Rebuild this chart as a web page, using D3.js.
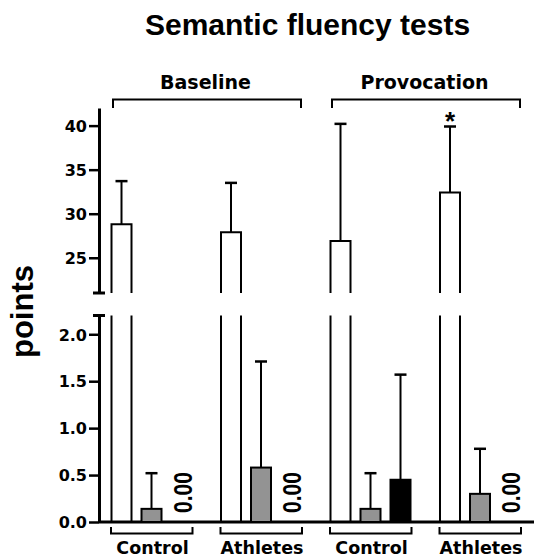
<!DOCTYPE html>
<html>
<head>
<meta charset="utf-8">
<script src="https://cdn.jsdelivr.net/npm/d3@7"></script>
<style>
  body { margin: 0; background: #fff; }
  svg { display: block; }
  .tick text { font-family: "DejaVu Sans", sans-serif; font-weight: bold; font-size: 16px; fill: #000; }
</style>
</head>
<body>
<script>
// data
var groups = ["Control", "Athletes", "Control", "Athletes"];
var conditions = ["Baseline", "Provocation"];
var condOfGroup = [0, 0, 1, 1];
var seriesKeys = ["white", "gray", "black"];

var whiteMean = [28.8, 27.9, 26.9, 32.4];
var whiteSD   = [4.9, 5.6, 13.3, 7.5];
var grayMean  = [0.14, 0.58, 0.14, 0.30];
var graySD    = [0.38, 1.13, 0.38, 0.48];
var blackMean = [0, 0, 0.45, 0];
var blackSD   = [0, 0, 1.12, 0];
var starred   = [false, false, false, true];

var upperTicks = [25, 30, 35, 40];
var lowerTicks = [0, 0.5, 1.0, 1.5, 2.0];

var w = 534, h = 557;
var axisX = 99;

var svg = d3.select("body").append("svg")
    .attr("width", w)
    .attr("height", h);

// two y segments (broken axis)
var yUp = d3.scaleLinear().domain([21, 42]).range([293, 108]);
var yLo = d3.scaleLinear().domain([0, 2.2]).range([522, 315.5]);

var x0 = d3.scaleBand().domain(d3.range(groups.length)).range([106.5, 544.5]);
var x1 = d3.scaleBand().domain(seriesKeys).range([5, 85]).paddingInner(1/3);
var bw = x1.bandwidth();

// title
svg.append("text")
    .attr("x", 307.5).attr("y", 35)
    .attr("text-anchor", "middle")
    .style("font-family", "'Liberation Sans', Arial, sans-serif")
    .style("font-weight", "bold")
    .style("font-size", "30px")
    .text("Semantic fluency tests");

// y label
svg.append("text")
    .attr("transform", "translate(33,311.5) rotate(-90)")
    .attr("text-anchor", "middle")
    .style("font-family", "'Liberation Sans', Arial, sans-serif")
    .style("font-weight", "bold")
    .style("font-size", "31px")
    .text("points");

// axes
var axUp = svg.append("g")
    .attr("transform", "translate(" + axisX + ",0)")
    .call(d3.axisLeft(yUp).tickValues(upperTicks).tickFormat(d3.format("d")).tickSize(10).tickSizeOuter(0).tickPadding(2));
var axLo = svg.append("g")
    .attr("transform", "translate(" + axisX + ",0)")
    .call(d3.axisLeft(yLo).tickValues(lowerTicks).tickFormat(d3.format(".1f")).tickSize(10).tickSizeOuter(0).tickPadding(2));

[axUp, axLo].forEach(function(ax){
    ax.select(".domain").attr("stroke", "#000").attr("stroke-width", 3);
    ax.selectAll(".tick line").attr("stroke", "#000").attr("stroke-width", 2.5);
    ax.selectAll(".tick text").attr("dy", "0.36em");
});

// break caps
[yUp.range()[0], yLo.range()[1]].forEach(function(yy){
    svg.append("line")
        .attr("x1", axisX - 6).attr("x2", axisX + 6)
        .attr("y1", yy).attr("y2", yy)
        .attr("stroke", "#000").attr("stroke-width", 3);
});

// x axis line
svg.append("line")
    .attr("x1", axisX).attr("x2", w)
    .attr("y1", yLo(0)).attr("y2", yLo(0))
    .attr("stroke", "#000").attr("stroke-width", 3);

var bars = svg.append("g");

// white bars, split across the break
groups.forEach(function(g, i){
    var bx = x0(i) + x1("white");
    var top = yUp(whiteMean[i]);
    bars.append("path")
        .attr("d", "M" + bx + "," + yUp.range()[0] + "V" + top + "H" + (bx + bw) + "V" + yUp.range()[0])
        .attr("fill", "#fff").attr("stroke", "#000").attr("stroke-width", 2);
    bars.append("path")
        .attr("d", "M" + bx + "," + yLo(0) + "V" + yLo.range()[1] + "M" + (bx + bw) + "," + yLo.range()[1] + "V" + yLo(0))
        .attr("fill", "none").attr("stroke", "#000").attr("stroke-width", 2);
    errBar(bx + bw / 2, top, yUp(whiteMean[i] + whiteSD[i]));
    if (starred[i]) {
        svg.append("text")
            .attr("x", bx + bw / 2).attr("y", 130)
            .attr("text-anchor", "middle")
            .style("font-family", "'Liberation Sans', Arial, sans-serif")
            .style("font-weight", "bold")
            .style("font-size", "26px")
            .text("*");
    }
});

// gray and black bars in the lower segment
var lowData = [];
groups.forEach(function(g, i){
    lowData.push({i: i, key: "gray", v: grayMean[i], sd: graySD[i], fill: "#939393"});
    lowData.push({i: i, key: "black", v: blackMean[i], sd: blackSD[i], fill: "#000"});
});

lowData.forEach(function(d){
    var bx = x0(d.i) + x1(d.key);
    if (d.v > 0) {
        errBar(bx + bw / 2, yLo(d.v), yLo(d.v + d.sd));
        bars.append("rect")
            .attr("x", bx).attr("y", yLo(d.v))
            .attr("width", bw).attr("height", yLo(0) - yLo(d.v))
            .attr("fill", d.fill).attr("stroke", "#000").attr("stroke-width", 2);
    } else {
        svg.append("text")
            .attr("transform", "translate(" + (bx + bw / 2 + 10) + "," + (yLo(0) - 9) + ") rotate(-90)")
            .attr("textLength", 41)
            .attr("lengthAdjust", "spacingAndGlyphs")
            .style("font-family", "'Liberation Sans', Arial, sans-serif")
            .style("font-weight", "bold")
            .style("font-size", "25px")
            .text(d3.format(".2f")(d.v));
    }
});

function errBar(cx, yBar, yTop){
    bars.append("line")
        .attr("x1", cx).attr("x2", cx).attr("y1", yBar).attr("y2", yTop)
        .attr("stroke", "#000").attr("stroke-width", 2);
    bars.append("line")
        .attr("x1", cx - 6).attr("x2", cx + 6).attr("y1", yTop).attr("y2", yTop)
        .attr("stroke", "#000").attr("stroke-width", 2.5);
}

// condition brackets on top
conditions.forEach(function(c, ci){
    var idx = d3.range(groups.length).filter(function(i){ return condOfGroup[i] === ci; });
    var xa = x0(idx[0]) + 6.5, xb = x0(idx[idx.length - 1]) + 85;
    svg.append("path")
        .attr("d", "M" + xa + ",108V99.5H" + xb + "V108")
        .attr("fill", "none").attr("stroke", "#000").attr("stroke-width", 2);
    svg.append("text")
        .attr("x", (xa + xb) / 2 - 1.5).attr("y", 89)
        .attr("text-anchor", "middle")
        .style("font-family", "'DejaVu Sans', sans-serif")
        .style("font-weight", "bold")
        .style("font-size", "19px")
        .text(c);
});

// group brackets below
groups.forEach(function(g, i){
    var xa = x0(i) + 4.5, xb = x0(i) + 86;
    svg.append("path")
        .attr("d", "M" + xa + ",527V533.5H" + xb + "V527")
        .attr("fill", "none").attr("stroke", "#000").attr("stroke-width", 2);
    svg.append("text")
        .attr("x", x0(i) + 46).attr("y", 554)
        .attr("text-anchor", "middle")
        .style("font-family", "'DejaVu Sans', sans-serif")
        .style("font-weight", "bold")
        .style("font-size", "17.5px")
        .text(g);
});
</script>
</body>
</html>
